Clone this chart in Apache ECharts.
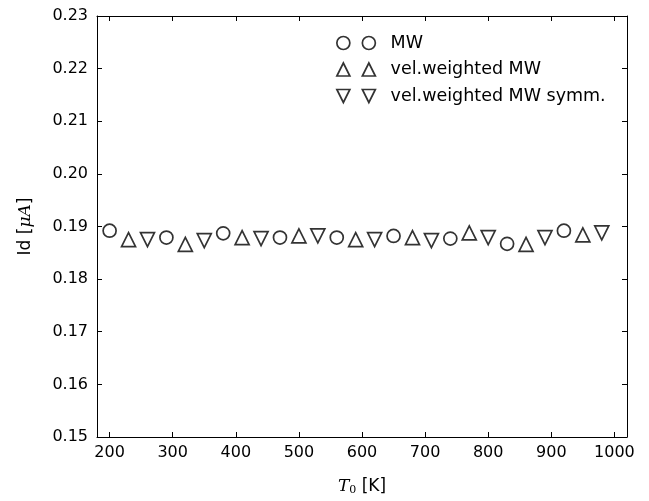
<!DOCTYPE html>
<html>
<head>
<meta charset="utf-8">
<script src="https://cdn.jsdelivr.net/npm/echarts@6/dist/echarts.min.js"></script>
<style>html,body{margin:0;padding:0;background:#fff}#c{width:649px;height:501px}</style>
</head>
<body>
<div id="c"></div>
<script>
// Data
const xMW = [200, 290, 380, 470, 560, 650, 740, 830, 920];
const yMW = [0.1892, 0.1879, 0.1887, 0.1879, 0.1879, 0.1882, 0.1877, 0.1867, 0.1892];
const xVel = [230, 320, 410, 500, 590, 680, 770, 860, 950];
const yVel = [0.1875, 0.1866, 0.1879, 0.1882, 0.1875, 0.1879, 0.1888, 0.1866, 0.1884];
const xSym = [260, 350, 440, 530, 620, 710, 800, 890, 980];
const ySym = [0.1875, 0.1873, 0.1877, 0.1882, 0.1875, 0.1873, 0.1879, 0.1879, 0.1888];
const xTicks = [200, 300, 400, 500, 600, 700, 800, 900, 1000];
const seriesNames = ['MW', 'vel.weighted MW', 'vel.weighted MW symm.'];

const zip = (xs, ys) => xs.map((x, i) => [x, ys[i]]);
const font = 'DejaVu Sans';
const mark = { color: 'rgba(0,0,0,0)', borderColor: '#000', borderWidth: 1.7 };

const iconCircle = 'path://M0,6.5 A6.5,6.5 0 1,0 13,6.5 A6.5,6.5 0 1,0 0,6.5 Z M25.5,6.5 A6.5,6.5 0 1,0 38.5,6.5 A6.5,6.5 0 1,0 25.5,6.5 Z';
const iconUp = 'path://M6.5,0 L13,13 L0,13 Z M32,0 L38.5,13 L25.5,13 Z';
const iconDown = 'path://M0,0 L13,0 L6.5,13 Z M25.5,0 L38.5,0 L32,13 Z';

const axisCommon = {
  axisLine: { show: true, onZero: false, lineStyle: { color: '#000', width: 1 } },
  splitLine: { show: false }
};
const xBase = Object.assign({}, axisCommon, {
  type: 'value', min: 180, max: 1020,
  axisTick: { show: true, inside: true, length: 5, customValues: xTicks, lineStyle: { color: '#000' } },
  axisLabel: { show: true, customValues: xTicks, margin: 8, color: '#000', fontFamily: font, fontSize: 16, formatter: v => String(v) }
});
const yBase = Object.assign({}, axisCommon, {
  type: 'value', min: 0.15, max: 0.23, interval: 0.01,
  axisTick: { show: true, inside: true, length: 5, lineStyle: { color: '#000' } },
  axisLabel: { show: true, margin: 9, color: '#000', fontFamily: font, fontSize: 16, formatter: v => v.toFixed(2) }
});

const chart = echarts.init(document.getElementById('c'), null, { renderer: 'canvas' });
chart.setOption({
  animation: false,
  backgroundColor: '#fff',
  grid: { left: 97, top: 16, right: 22, bottom: 63, containLabel: false },
  xAxis: [
    Object.assign({}, xBase, {
      position: 'bottom',
      name: '{t|T}{s|0}{a| [K]}', nameLocation: 'middle', nameGap: 40,
      nameTextStyle: {
        rich: {
          t: { fontFamily: 'DejaVu Serif', fontStyle: 'italic', fontSize: 17, color: '#000' },
          s: { fontFamily: 'DejaVu Serif', fontSize: 11, color: '#000', padding: [8, 0, 0, 0] },
          a: { fontFamily: font, fontSize: 17, color: '#000' }
        }
      }
    }),
    Object.assign({}, xBase, { position: 'top', axisLabel: { show: false } })
  ],
  yAxis: [
    Object.assign({}, yBase, {
      position: 'left',
      name: '{a|Id [}{m|μA}{a|]}', nameLocation: 'middle', nameGap: 63, nameRotate: 90,
      nameTextStyle: {
        rich: {
          a: { fontFamily: font, fontSize: 17, color: '#000' },
          m: { fontFamily: 'DejaVu Serif', fontStyle: 'italic', fontSize: 17, color: '#000' }
        }
      }
    }),
    Object.assign({}, yBase, { position: 'right', axisLabel: { show: false } })
  ],
  legend: {
    orient: 'vertical', left: 331, top: 29, itemGap: 8.5,
    itemWidth: 39, itemHeight: 13,
    textStyle: { fontFamily: font, fontSize: 17.5, lineHeight: 18, color: '#000', padding: [0, 0, 0, 10] },
    data: [
      { name: seriesNames[0], icon: iconCircle },
      { name: seriesNames[1], icon: iconUp },
      { name: seriesNames[2], icon: iconDown }
    ],
    itemStyle: { color: 'rgba(0,0,0,0)', borderColor: '#000', borderWidth: 1.7 }
  },
  series: [
    { name: seriesNames[0], type: 'scatter', symbol: 'circle', symbolSize: 13, itemStyle: mark, data: zip(xMW, yMW) },
    { name: seriesNames[1], type: 'scatter', symbol: 'triangle', symbolSize: 14, itemStyle: mark, data: zip(xVel, yVel) },
    { name: seriesNames[2], type: 'scatter', symbol: 'triangle', symbolRotate: 180, symbolSize: 14, itemStyle: mark, data: zip(xSym, ySym) }
  ]
});
</script>
</body>
</html>
